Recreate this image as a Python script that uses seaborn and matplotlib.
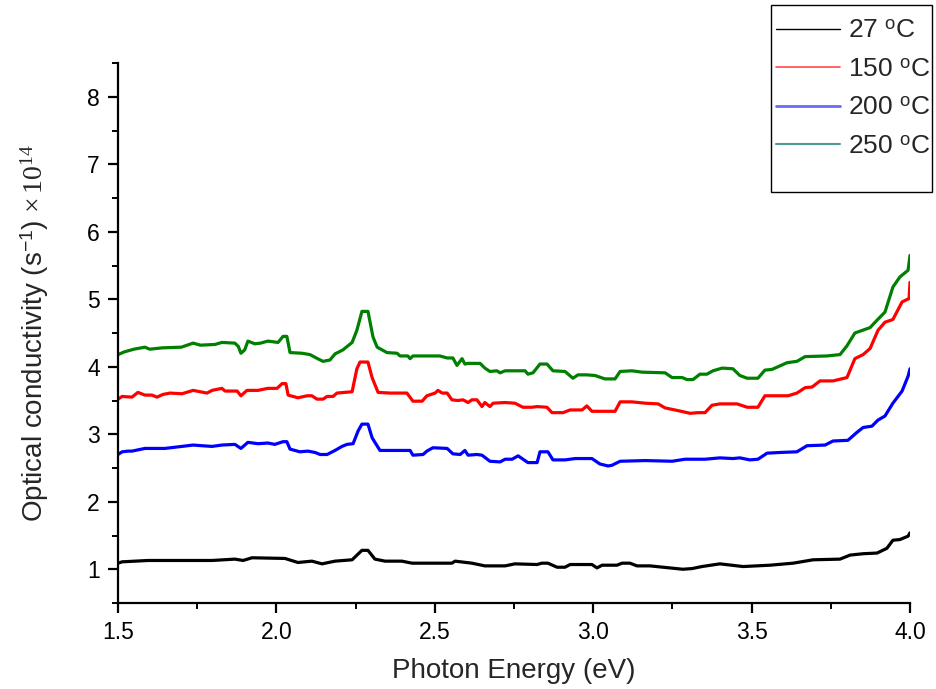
import matplotlib
matplotlib.use("Agg")
import matplotlib.pyplot as plt
from matplotlib.lines import Line2D
from matplotlib.patches import Rectangle
from matplotlib.ticker import MultipleLocator, FormatStrFormatter
import numpy as np
import pandas as pd
import seaborn as sns

# ---- data: photon energy (eV) and optical conductivity (x1e14 s^-1) ----
energy_27 = [1.500, 1.513, 1.595, 1.702, 1.797, 1.869, 1.895, 1.923, 2.027, 2.068,
             2.112, 2.144, 2.185, 2.239, 2.270, 2.289, 2.311, 2.343, 2.396, 2.428,
             2.554, 2.564, 2.617, 2.658, 2.722, 2.753, 2.823, 2.838, 2.857, 2.886,
             2.911, 2.927, 2.996, 3.012, 3.028, 3.075, 3.091, 3.116, 3.138, 3.179,
             3.283, 3.312, 3.343, 3.400, 3.473, 3.558, 3.631, 3.694, 3.779, 3.811,
             3.852, 3.896, 3.927, 3.946, 3.968, 3.994, 4.000]
sigma_27 = [1.09, 1.11, 1.13, 1.13, 1.13, 1.15, 1.13, 1.17, 1.16, 1.10,
            1.12, 1.08, 1.12, 1.14, 1.28, 1.28, 1.15, 1.12, 1.12, 1.09,
            1.09, 1.12, 1.09, 1.05, 1.05, 1.08, 1.07, 1.09, 1.09, 1.03,
            1.03, 1.07, 1.07, 1.02, 1.06, 1.06, 1.09, 1.09, 1.05, 1.05,
            1.00, 1.01, 1.04, 1.08, 1.04, 1.06, 1.09, 1.14, 1.15, 1.21,
            1.23, 1.24, 1.31, 1.43, 1.44, 1.49, 1.54]

energy_150 = [1.500, 1.513, 1.544, 1.563, 1.585, 1.607, 1.623, 1.642, 1.664, 1.702,
              1.737, 1.781, 1.797, 1.828, 1.838, 1.876, 1.888, 1.907, 1.942, 1.973,
              2.002, 2.018, 2.030, 2.037, 2.068, 2.097, 2.112, 2.128, 2.147, 2.160,
              2.179, 2.191, 2.239, 2.254, 2.264, 2.289, 2.302, 2.321, 2.359, 2.412,
              2.431, 2.460, 2.475, 2.501, 2.510, 2.523, 2.539, 2.554, 2.573, 2.589,
              2.605, 2.617, 2.633, 2.649, 2.658, 2.674, 2.684, 2.722, 2.753, 2.778,
              2.807, 2.823, 2.854, 2.870, 2.905, 2.927, 2.965, 2.980, 2.996, 3.069,
              3.085, 3.122, 3.164, 3.205, 3.227, 3.268, 3.306, 3.331, 3.353, 3.375,
              3.400, 3.454, 3.486, 3.520, 3.542, 3.615, 3.643, 3.669, 3.691, 3.716,
              3.757, 3.801, 3.826, 3.852, 3.874, 3.899, 3.921, 3.946, 3.975, 3.997,
              4.000]
sigma_150 = [3.52, 3.56, 3.55, 3.62, 3.58, 3.58, 3.55, 3.59, 3.61, 3.60,
             3.65, 3.61, 3.65, 3.68, 3.64, 3.64, 3.57, 3.65, 3.65, 3.68,
             3.68, 3.75, 3.75, 3.58, 3.54, 3.57, 3.57, 3.52, 3.52, 3.56,
             3.56, 3.61, 3.63, 3.97, 4.07, 4.07, 3.84, 3.62, 3.61, 3.61,
             3.49, 3.49, 3.57, 3.61, 3.65, 3.61, 3.61, 3.51, 3.50, 3.51,
             3.47, 3.51, 3.51, 3.41, 3.47, 3.41, 3.46, 3.47, 3.46, 3.40,
             3.40, 3.41, 3.40, 3.32, 3.32, 3.36, 3.36, 3.42, 3.34, 3.34,
             3.48, 3.48, 3.46, 3.45, 3.39, 3.35, 3.31, 3.32, 3.32, 3.43,
             3.45, 3.45, 3.40, 3.40, 3.57, 3.57, 3.61, 3.69, 3.70, 3.79,
             3.79, 3.84, 4.12, 4.18, 4.27, 4.54, 4.66, 4.70, 4.96, 5.01,
             5.25]

energy_200 = [1.500, 1.513, 1.532, 1.544, 1.585, 1.648, 1.702, 1.737, 1.765, 1.797,
              1.828, 1.869, 1.888, 1.910, 1.942, 1.973, 1.995, 2.021, 2.033, 2.043,
              2.074, 2.100, 2.122, 2.138, 2.160, 2.185, 2.207, 2.223, 2.242, 2.258,
              2.270, 2.289, 2.302, 2.311, 2.327, 2.422, 2.431, 2.463, 2.475, 2.494,
              2.539, 2.557, 2.580, 2.595, 2.605, 2.633, 2.649, 2.674, 2.706, 2.722,
              2.744, 2.763, 2.794, 2.823, 2.832, 2.857, 2.873, 2.911, 2.943, 2.996,
              3.021, 3.047, 3.059, 3.085, 3.164, 3.249, 3.290, 3.353, 3.400, 3.441,
              3.463, 3.495, 3.520, 3.549, 3.590, 3.643, 3.675, 3.732, 3.757, 3.804,
              3.833, 3.852, 3.880, 3.899, 3.921, 3.946, 3.975, 3.994, 4.000]
sigma_200 = [2.70, 2.74, 2.75, 2.75, 2.79, 2.79, 2.82, 2.84, 2.83, 2.82,
             2.84, 2.85, 2.79, 2.88, 2.86, 2.87, 2.85, 2.89, 2.89, 2.78,
             2.74, 2.75, 2.73, 2.70, 2.70, 2.76, 2.82, 2.85, 2.86, 3.05,
             3.15, 3.15, 2.95, 2.88, 2.76, 2.76, 2.69, 2.70, 2.75, 2.80,
             2.79, 2.71, 2.70, 2.76, 2.69, 2.70, 2.69, 2.60, 2.59, 2.63,
             2.63, 2.68, 2.58, 2.58, 2.74, 2.74, 2.62, 2.62, 2.64, 2.64,
             2.56, 2.53, 2.54, 2.60, 2.61, 2.60, 2.63, 2.63, 2.65, 2.64,
             2.65, 2.62, 2.63, 2.72, 2.73, 2.74, 2.83, 2.84, 2.90, 2.91,
             3.03, 3.10, 3.12, 3.21, 3.27, 3.46, 3.64, 3.86, 3.97]

energy_250 = [1.500, 1.520, 1.550, 1.585, 1.600, 1.640, 1.700, 1.737, 1.760, 1.806,
              1.828, 1.869, 1.880, 1.888, 1.900, 1.910, 1.932, 1.950, 1.973, 2.005,
              2.021, 2.033, 2.043, 2.081, 2.106, 2.130, 2.147, 2.169, 2.185, 2.210,
              2.239, 2.254, 2.270, 2.289, 2.305, 2.318, 2.349, 2.381, 2.390, 2.415,
              2.422, 2.431, 2.485, 2.516, 2.539, 2.557, 2.570, 2.586, 2.595, 2.605,
              2.643, 2.658, 2.674, 2.696, 2.706, 2.722, 2.737, 2.785, 2.794, 2.810,
              2.832, 2.854, 2.873, 2.911, 2.936, 2.952, 2.980, 3.006, 3.037, 3.069,
              3.085, 3.122, 3.154, 3.227, 3.249, 3.281, 3.296, 3.315, 3.337, 3.359,
              3.378, 3.407, 3.441, 3.463, 3.486, 3.520, 3.542, 3.564, 3.612, 3.643,
              3.669, 3.738, 3.779, 3.801, 3.826, 3.874, 3.896, 3.921, 3.946, 3.968,
              3.994, 4.000]
sigma_250 = [4.18, 4.22, 4.26, 4.29, 4.26, 4.28, 4.29, 4.35, 4.32, 4.33,
             4.36, 4.35, 4.30, 4.20, 4.25, 4.38, 4.34, 4.35, 4.38, 4.36,
             4.45, 4.45, 4.21, 4.20, 4.18, 4.12, 4.08, 4.10, 4.19, 4.25,
             4.36, 4.54, 4.82, 4.82, 4.44, 4.29, 4.21, 4.20, 4.16, 4.16,
             4.12, 4.16, 4.16, 4.16, 4.13, 4.13, 4.02, 4.12, 4.04, 4.05,
             4.05, 3.98, 3.93, 3.94, 3.91, 3.94, 3.94, 3.94, 3.89, 3.91,
             4.04, 4.04, 3.94, 3.93, 3.83, 3.88, 3.88, 3.87, 3.82, 3.82,
             3.93, 3.94, 3.92, 3.91, 3.84, 3.84, 3.81, 3.81, 3.89, 3.89,
             3.94, 3.98, 3.97, 3.87, 3.83, 3.83, 3.95, 3.96, 4.06, 4.08,
             4.15, 4.16, 4.18, 4.31, 4.50, 4.58, 4.69, 4.81, 5.18, 5.33,
             5.43, 5.65]

series_labels = ["27", "150", "200", "250"]
line_colors = ["#000000", "#ff0000", "#0000ff", "#008000"]
legend_colors = ["#000000", "#ff4a4a", "#6a6aff", "#4d9a94"]
legend_widths = [1.0, 1.2, 2.0, 1.5]

x_ticks = [1.5, 2.0, 2.5, 3.0, 3.5, 4.0]
y_ticks = [1, 2, 3, 4, 5, 6, 7, 8]

frames = []
for lab, e, s in zip(series_labels,
                     [energy_27, energy_150, energy_200, energy_250],
                     [sigma_27, sigma_150, sigma_200, sigma_250]):
    frames.append(pd.DataFrame({"energy": e, "sigma": s, "series": lab}))
df = pd.concat(frames, ignore_index=True)

# ---- styling ----
sns.set_style("ticks")
plt.rcParams["font.family"] = ["Liberation Sans", "DejaVu Sans"]
plt.rcParams["mathtext.fontset"] = "custom"
plt.rcParams["mathtext.rm"] = "Liberation Serif"
plt.rcParams["mathtext.sf"] = "Liberation Sans"
plt.rcParams["mathtext.it"] = "Liberation Serif:italic"

W, H = 936, 689
fig = plt.figure(figsize=(W / 100, H / 100), dpi=100)
ax = fig.add_axes([118 / W, 1 - 603 / H, 792 / W, (603 - 63) / H])

sns.lineplot(data=df, x="energy", y="sigma", hue="series",
             palette=dict(zip(series_labels, line_colors)),
             estimator=None, sort=False, linewidth=2.3, legend=False, ax=ax)

ax.set_xlim(1.5, 4.0)
ax.set_ylim(0.5, 8.5)
ax.set_xticks(x_ticks)
ax.set_yticks(y_ticks)
ax.xaxis.set_minor_locator(MultipleLocator(0.25))
ax.yaxis.set_minor_locator(MultipleLocator(0.5))
ax.xaxis.set_major_formatter(FormatStrFormatter("%.1f"))

sns.despine(ax=ax)
for side in ("left", "bottom"):
    ax.spines[side].set_linewidth(1.6)
    ax.spines[side].set_color("black")
ax.tick_params(which="major", direction="out", length=7, width=1.6,
               labelsize=16.5, colors="black", pad=6)
ax.tick_params(which="minor", direction="out", length=4.5, width=1.4, colors="black")

ax.set_xlabel("Photon Energy (eV)", fontsize=20, labelpad=10)
ax.set_ylabel(r"Optical conductivity (s$^{\mathsf{-1}}$) $\mathrm{\times\,10^{14}}$",
              fontsize=20, labelpad=26)

# legend: entries without frame, boxed by a separate rectangle
handles = [Line2D([], [], color=c, lw=w) for c, w in zip(legend_colors, legend_widths)]
labels = [lab + r" $^{\mathsf{o}}$C" for lab in series_labels]
leg = fig.legend(handles, labels, loc="upper left",
                 bbox_to_anchor=(776 / W, 1 - 19 / H),
                 frameon=False, fontsize=19,
                 handlelength=2.42, handletextpad=0.3, labelspacing=0.55,
                 borderpad=0, borderaxespad=0)
fig.patches.append(Rectangle((771 / W, 1 - 192 / H), (932 - 771) / W, (192 - 5) / H,
                             transform=fig.transFigure, fill=False,
                             edgecolor="black", linewidth=1.0))

fig.savefig("out.png", dpi=100, facecolor="white")
